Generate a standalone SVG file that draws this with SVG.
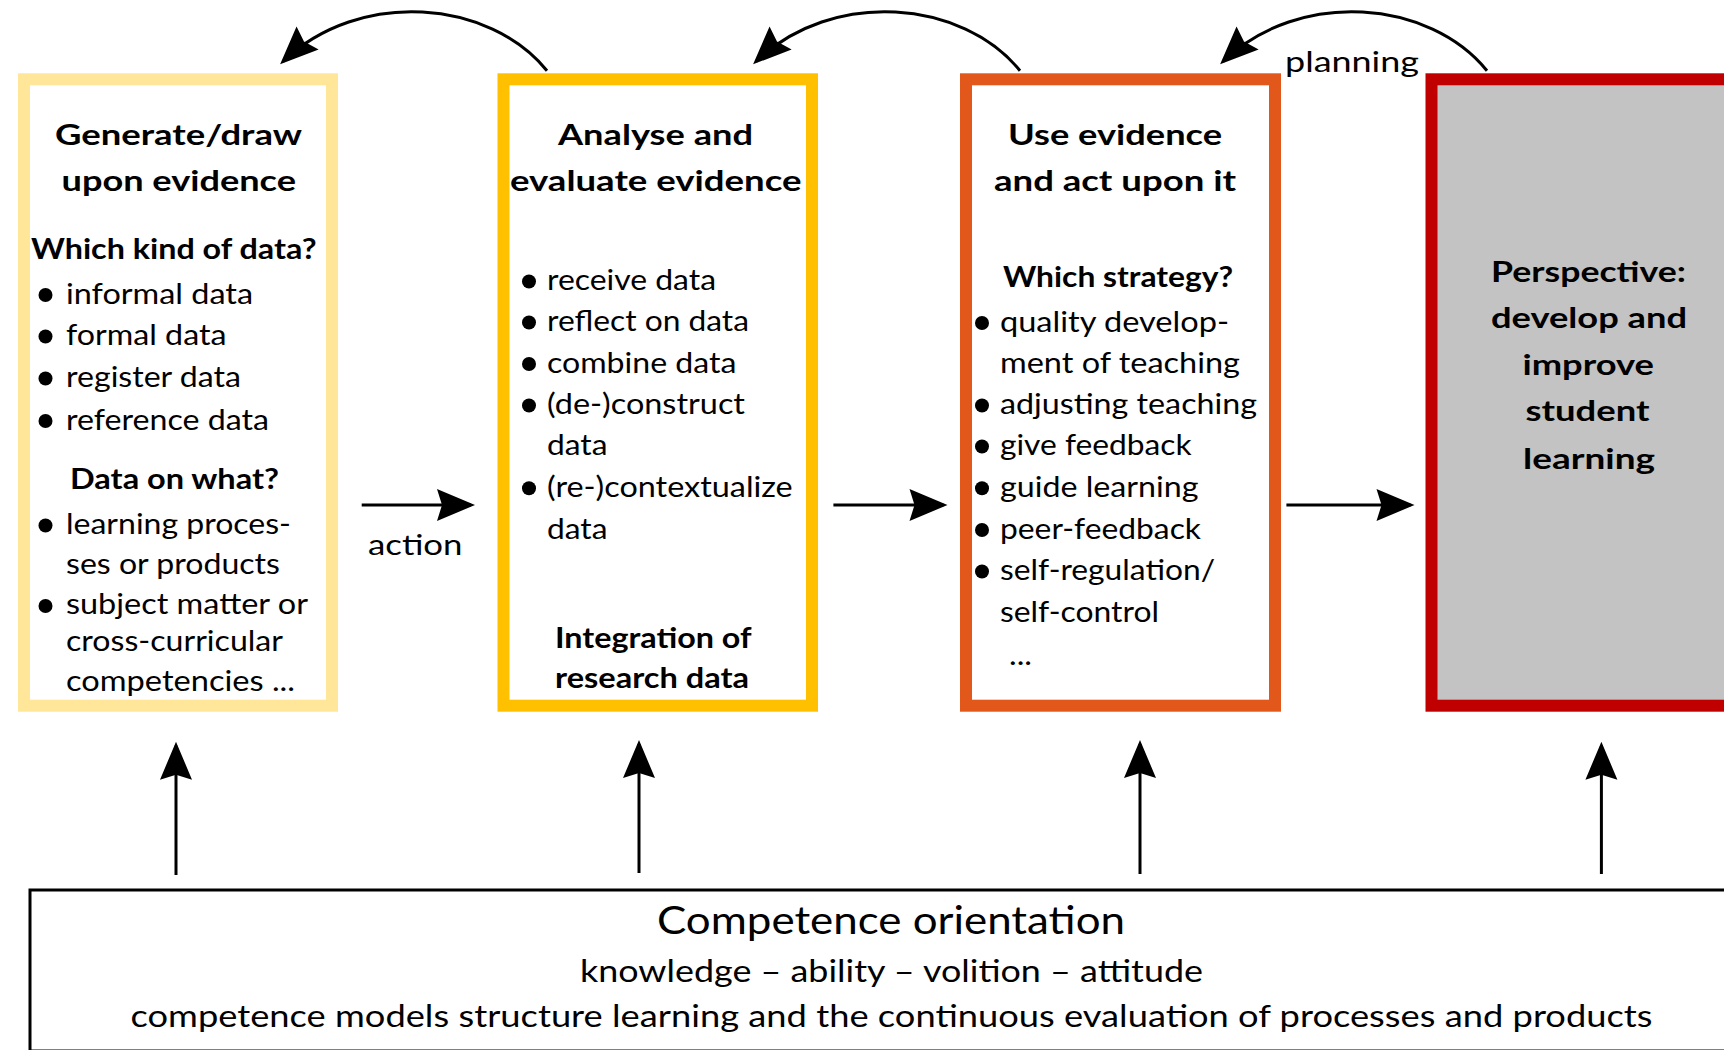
<svg xmlns="http://www.w3.org/2000/svg" width="1724" height="1050" viewBox="0 0 1724 1050">
<defs>
<style>
text{font-family:Lato,"Open Sans","Liberation Sans",sans-serif;fill:#000;}
.t{font-size:29px;}
.b{font-size:29px;font-weight:bold;}
.box{stroke-width:12;fill:#fff;}
.con{fill:none;stroke:#000;stroke-width:3;}
.dot{fill:#000;}
</style>
<marker id="ah" markerUnits="userSpaceOnUse" viewBox="-36 -18 42 36" markerWidth="42" markerHeight="36" refX="0" refY="0" orient="auto">
<path d="M4,0 L-34,-16 L-29,0 L-34,16 Z" fill="#000"/>
</marker>
</defs>
<rect width="1724" height="1050" fill="#fff"/>

<g id="node-generate">
<rect class="box" x="24" y="79.3" width="308" height="626.4" stroke="#FFE699"/>
<text class="b" x="55" y="145" textLength="247" lengthAdjust="spacingAndGlyphs">Generate/draw</text>
<text class="b" x="61.5" y="191" textLength="234.5" lengthAdjust="spacingAndGlyphs">upon evidence</text>
<text class="b" x="31" y="258.5" textLength="285.5" lengthAdjust="spacingAndGlyphs">Which kind of data?</text>
<circle class="dot" cx="45.5" cy="295" r="7"/>
<text class="t" x="66" y="303.5" textLength="187" lengthAdjust="spacingAndGlyphs">informal data</text>
<circle class="dot" cx="45.5" cy="336.5" r="7"/>
<text class="t" x="66" y="345" textLength="160.5" lengthAdjust="spacingAndGlyphs">formal data</text>
<circle class="dot" cx="45.5" cy="378.5" r="7"/>
<text class="t" x="66" y="387" textLength="175" lengthAdjust="spacingAndGlyphs">register data</text>
<circle class="dot" cx="45.5" cy="421" r="7"/>
<text class="t" x="66" y="429.5" textLength="203" lengthAdjust="spacingAndGlyphs">reference data</text>
<text class="b" x="70" y="489" textLength="209" lengthAdjust="spacingAndGlyphs">Data on what?</text>
<circle class="dot" cx="45.5" cy="525.5" r="7"/>
<text class="t" x="66" y="534" textLength="225" lengthAdjust="spacingAndGlyphs">learning proces-</text>
<text class="t" x="66" y="574" textLength="214" lengthAdjust="spacingAndGlyphs">ses or products</text>
<circle class="dot" cx="45.5" cy="606" r="7"/>
<text class="t" x="66" y="613.5" textLength="242" lengthAdjust="spacingAndGlyphs">subject matter or</text>
<text class="t" x="66" y="651" textLength="217" lengthAdjust="spacingAndGlyphs">cross-curricular</text>
<text class="t" x="66" y="690.5" textLength="229" lengthAdjust="spacingAndGlyphs">competencies ...</text>
</g>

<g id="node-analyse">
<rect class="box" x="503.5" y="79.3" width="308.5" height="626.4" stroke="#FFC000"/>
<text class="b" x="558" y="144.5" textLength="195" lengthAdjust="spacingAndGlyphs">Analyse and</text>
<text class="b" x="510" y="191" textLength="291.5" lengthAdjust="spacingAndGlyphs">evaluate evidence</text>
<circle class="dot" cx="529" cy="281.5" r="7"/>
<text class="t" x="547" y="290" textLength="169" lengthAdjust="spacingAndGlyphs">receive data</text>
<circle class="dot" cx="529" cy="322.5" r="7"/>
<text class="t" x="547" y="331" textLength="202" lengthAdjust="spacingAndGlyphs">reflect on data</text>
<circle class="dot" cx="529" cy="364" r="7"/>
<text class="t" x="547" y="372.5" textLength="189.5" lengthAdjust="spacingAndGlyphs">combine data</text>
<circle class="dot" cx="529" cy="405.5" r="7"/>
<text class="t" x="547" y="414" textLength="198" lengthAdjust="spacingAndGlyphs">(de-)construct</text>
<text class="t" x="547" y="455" textLength="60.5" lengthAdjust="spacingAndGlyphs">data</text>
<circle class="dot" cx="529" cy="488.3" r="7"/>
<text class="t" x="547" y="496.8" textLength="245.7" lengthAdjust="spacingAndGlyphs">(re-)contextualize</text>
<text class="t" x="547" y="538.8" textLength="60.5" lengthAdjust="spacingAndGlyphs">data</text>
<text class="b" x="555" y="647.5" textLength="196.5" lengthAdjust="spacingAndGlyphs">Integration of</text>
<text class="b" x="555" y="688.4" textLength="194" lengthAdjust="spacingAndGlyphs">research data</text>
</g>

<g id="node-use">
<rect class="box" x="966" y="79.3" width="309" height="626.4" stroke="#E2581A"/>
<text class="b" x="1008" y="144.5" textLength="214" lengthAdjust="spacingAndGlyphs">Use evidence</text>
<text class="b" x="994" y="191" textLength="242" lengthAdjust="spacingAndGlyphs">and act upon it</text>
<text class="b" x="1003" y="287" textLength="230" lengthAdjust="spacingAndGlyphs">Which strategy?</text>
<circle class="dot" cx="982" cy="323" r="7"/>
<text class="t" x="1000" y="331.5" textLength="229" lengthAdjust="spacingAndGlyphs">quality develop-</text>
<text class="t" x="1000" y="372.5" textLength="240" lengthAdjust="spacingAndGlyphs">ment of teaching</text>
<circle class="dot" cx="982" cy="405.5" r="7"/>
<text class="t" x="1000" y="414" textLength="257" lengthAdjust="spacingAndGlyphs">adjusting teaching</text>
<circle class="dot" cx="982" cy="446.5" r="7"/>
<text class="t" x="1000" y="455" textLength="191.5" lengthAdjust="spacingAndGlyphs">give feedback</text>
<circle class="dot" cx="982" cy="488.3" r="7"/>
<text class="t" x="1000" y="496.8" textLength="198.5" lengthAdjust="spacingAndGlyphs">guide learning</text>
<circle class="dot" cx="982" cy="530" r="7"/>
<text class="t" x="1000" y="538.5" textLength="201" lengthAdjust="spacingAndGlyphs">peer-feedback</text>
<circle class="dot" cx="982" cy="571.5" r="7"/>
<text class="t" x="1000" y="580" textLength="215" lengthAdjust="spacingAndGlyphs">self-regulation/</text>
<text class="t" x="1000" y="621.5" textLength="159" lengthAdjust="spacingAndGlyphs">self-control</text>
<text class="t" x="1009" y="665" textLength="23" lengthAdjust="spacingAndGlyphs">...</text>
</g>

<g id="node-perspective">
<rect x="1431.5" y="79.3" width="320" height="626.4" fill="#C3C3C3" stroke="#C00000" stroke-width="12"/>
<text class="b" x="1491" y="281.7" textLength="195" lengthAdjust="spacingAndGlyphs">Perspective:</text>
<text class="b" x="1491" y="328" textLength="196" lengthAdjust="spacingAndGlyphs">develop and</text>
<text class="b" x="1522.5" y="375" textLength="131.5" lengthAdjust="spacingAndGlyphs">improve</text>
<text class="b" x="1525.5" y="421" textLength="124" lengthAdjust="spacingAndGlyphs">student</text>
<text class="b" x="1523" y="469.3" textLength="132" lengthAdjust="spacingAndGlyphs">learning</text>
</g>

<g id="node-competence">
<rect x="30" y="890" width="1740" height="161" fill="#fff" stroke="#000" stroke-width="3"/>
<text x="657" y="933.5" font-size="39" textLength="468" lengthAdjust="spacingAndGlyphs">Competence orientation</text>
<text x="580" y="981.5" font-size="30" textLength="623" lengthAdjust="spacingAndGlyphs">knowledge – ability – volition – attitude</text>
<text x="130.5" y="1026.5" font-size="30" textLength="1522" lengthAdjust="spacingAndGlyphs">competence models structure learning and the continuous evaluation of processes and products</text>
</g>

<g id="connectors">
<path class="con" d="M547,70.7 C490,0 360,-12 283,61.5" marker-end="url(#ah)"/>
<path class="con" d="M1020,70.7 C963,0 833,-12 756,61.5" marker-end="url(#ah)"/>
<path class="con" d="M1487,70.7 C1430,0 1300,-12 1223,61.5" marker-end="url(#ah)"/>
<path class="con" d="M361.7,505 L471,505" marker-end="url(#ah)"/>
<path class="con" d="M833.4,505 L943.5,505" marker-end="url(#ah)"/>
<path class="con" d="M1286.4,505 L1410.5,505" marker-end="url(#ah)"/>
<path class="con" d="M176,875 L176,745.7" marker-end="url(#ah)"/>
<path class="con" d="M639,873 L639,744" marker-end="url(#ah)"/>
<path class="con" d="M1140,874 L1140,744" marker-end="url(#ah)"/>
<path class="con" d="M1601.4,874 L1601.4,745.7" marker-end="url(#ah)"/>
<text class="t" x="368" y="555" textLength="94.5" lengthAdjust="spacingAndGlyphs">action</text>
<text class="t" x="1285" y="71.5" textLength="134" lengthAdjust="spacingAndGlyphs">planning</text>
</g>
</svg>
